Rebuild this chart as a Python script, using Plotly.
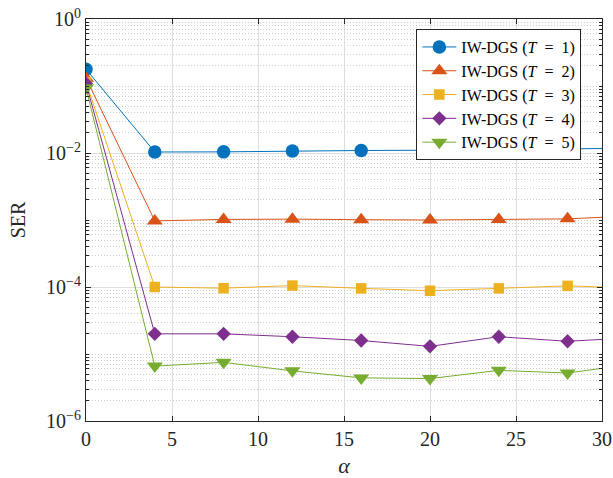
import plotly.graph_objects as go

alpha = [0, 4, 8, 12, 16, 20, 24, 28, 32]
ser_t1 = [0.178, 0.01035, 0.0104, 0.0107, 0.0109, 0.0110, 0.0112, 0.0112, 0.0118]
ser_t2 = [0.131, 0.00097, 0.00102, 0.00103, 0.00101, 0.00100, 0.00102, 0.00104, 0.00116]
ser_t3 = [0.114, 1.00e-4, 0.96e-4, 1.05e-4, 0.955e-4, 0.88e-4, 0.955e-4, 1.04e-4, 0.96e-4]
ser_t4 = [0.109, 2.0e-5, 2.0e-5, 1.81e-5, 1.59e-5, 1.30e-5, 1.81e-5, 1.55e-5, 1.76e-5]
ser_t5 = [0.093, 6.6e-6, 7.5e-6, 5.6e-6, 4.4e-6, 4.3e-6, 5.7e-6, 5.2e-6, 7.2e-6]
t_values = [1, 2, 3, 4, 5]
names = ["IW-DGS\u00a0(<i>T</i>\u00a0\u00a0=\u00a0\u00a0%d)" % t for t in t_values]
y_tickvals = [1, 1e-2, 1e-4, 1e-6]
y_ticktext = ["10<sup>0</sup>", "10<sup>−2</sup>", "10<sup>−4</sup>", "10<sup>−6</sup>"]

colors = ["#0072BD", "#D95319", "#EDB120", "#7E2F8E", "#77AC30"]
symbols = ["circle", "triangle-up", "square", "diamond", "triangle-down"]
sizes = [13.5, 14, 10.5, 11, 14]
series = [ser_t1, ser_t2, ser_t3, ser_t4, ser_t5]

font = "Liberation Serif, serif"

fig = go.Figure()
for s, n, c, sym, sz in zip(series, names, colors, symbols, sizes):
    fig.add_trace(go.Scatter(
        x=alpha, y=s, name=n, mode="lines+markers",
        line=dict(color=c, width=1),
        marker=dict(symbol=sym, size=sz, color=c, line=dict(width=0)),
        cliponaxis=True,
    ))

minor_vals = []
for e in range(-6, 0):
    for k in range(1, 10):
        v = k * 10 ** e
        if k == 1 and e % 2 == 0:
            continue
        minor_vals.append(v)

axis_common = dict(
    showline=True, linecolor="#262626", linewidth=1, mirror="ticks",
    ticks="inside", tickcolor="#262626", ticklen=5,
    showgrid=True, gridcolor="#dedede", gridwidth=1,
    tickfont=dict(family=font, size=20, color="#262626"),
    zeroline=False, automargin=False, ticklabeloverflow="allow",
)

fig.update_xaxes(
    range=[0, 30], tickmode="array", tickvals=[0, 5, 10, 15, 20, 25, 30],
    title=dict(text="<i>α</i>", font=dict(family=font, size=22, color="#262626")),
    **axis_common,
)
fig.update_yaxes(
    type="log", range=[-6, 0], tickmode="array", tickvals=y_tickvals, ticktext=y_ticktext,
    title=dict(text="SER", font=dict(family=font, size=20, color="#262626")),
    minor=dict(tickmode="array", tickvals=minor_vals, ticks="inside", ticklen=3,
               tickcolor="#262626", showgrid=True, gridcolor="#cfcfcf", griddash="1px,2px",
               gridwidth=1),
    **axis_common,
)

fig.update_layout(
    width=613, height=478,
    margin=dict(l=86, r=11, t=19, b=57),
    plot_bgcolor="white", paper_bgcolor="white",
    font=dict(family=font, color="#262626"),
    showlegend=True,
    legend=dict(
        x=0.96, y=0.975, xanchor="right", yanchor="top",
        bgcolor="white", bordercolor="#262626", borderwidth=1,
        font=dict(family=font, size=16, color="#000000"),
        tracegroupgap=0, itemwidth=34,
    ),
)

fig.write_html("out.html", config={"displayModeBar": False},
               post_script="document.body.style.margin='0px';")
